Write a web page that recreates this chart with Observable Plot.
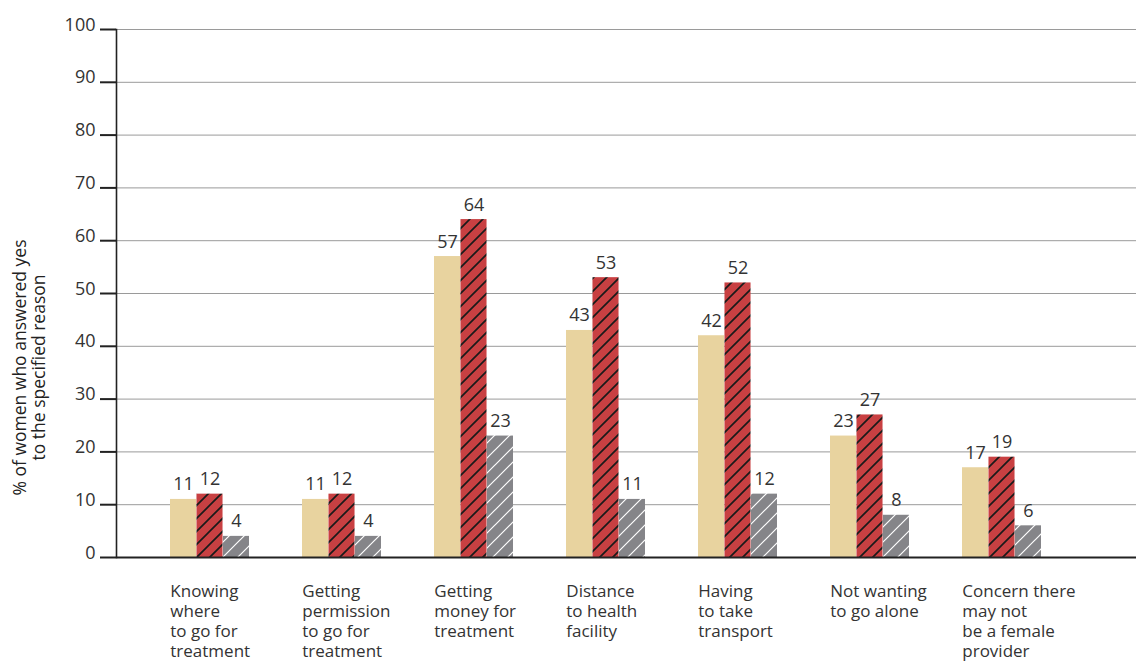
<!DOCTYPE html>
<html><head><meta charset="utf-8">
<script src="https://cdn.jsdelivr.net/npm/d3@7"></script>
<script src="https://cdn.jsdelivr.net/npm/@observablehq/plot@0.6"></script>
<style>body{margin:0;background:#fff;} svg{display:block;}</style>
</head><body><div id="chart"></div>
<script>
const categories = [
  "Knowing\nwhere\nto go for\ntreatment",
  "Getting\npermission\nto go for\ntreatment",
  "Getting\nmoney for\ntreatment",
  "Distance\nto health\nfacility",
  "Having\nto take\ntransport",
  "Not wanting\nto go alone",
  "Concern there\nmay not\nbe a female\nprovider"
];
const seriesNames = ["Series 1", "Series 2", "Series 3"];
const series1 = [11, 11, 57, 43, 42, 23, 17];
const series2 = [12, 12, 64, 53, 52, 27, 19];
const series3 = [4, 4, 23, 11, 12, 8, 6];
const yTicks = [0, 10, 20, 30, 40, 50, 60, 70, 80, 90, 100];
const yLabel = "% of women who answered yes\nto the specified reason";
const fills = ["#E8D39F", "url(#hatch-red)", "url(#hatch-gray)"];

const seriesValues = [series1, series2, series3];
const rows = categories.flatMap((c, i) =>
  seriesValues.map((s, j) => ({category: c, series: seriesNames[j], k: j, value: s[i]})));

const W = 1136, ML = 116;
const xRange = [ML, 1095.3], pad = 0.4;
const step = (xRange[1] - xRange[0]) / (categories.length - pad + 2 * pad);
const bw = step * (1 - pad);
const sub = bw / seriesNames.length;

const barMarks = seriesNames.flatMap((name, j) => [
  Plot.barY(rows.filter(r => r.k === j), {x: "category", y: "value", fill: "series",
    insetLeft: j * sub, insetRight: (seriesNames.length - 1 - j) * sub}),
  Plot.text(rows.filter(r => r.k === j), {x: "category", y: "value", text: "value",
    dx: (j - (seriesNames.length - 1) / 2) * sub,
    lineAnchor: "bottom", dy: -9, fontSize: 18, fill: "#333"})
]);

const chart = Plot.plot({
  width: W, height: 661,
  marginTop: 29, marginBottom: 104, marginLeft: ML, marginRight: 0,
  style: {fontFamily: "'Open Sans', sans-serif", background: "#fff", overflow: "visible"},
  x: {domain: categories, range: xRange, paddingInner: pad, paddingOuter: pad, axis: null},
  y: {domain: [0, 100], axis: null},
  color: {type: "ordinal", domain: seriesNames, range: fills},
  marks: [
    Plot.ruleY(yTicks.filter(d => d > 0), {stroke: "#9a9a9a", strokeWidth: 1}),
    ...barMarks,
    Plot.text(categories, {x: d => d, text: d => d, frameAnchor: "bottom", dx: -bw / 2,
      textAnchor: "start", lineAnchor: "top", dy: 25, fontSize: 17, lineHeight: 20 / 17, fill: "#333"}),
    Plot.ruleY([0], {stroke: "#222", strokeWidth: 2}),
    Plot.ruleY(yTicks, {stroke: "#222", strokeWidth: 2, dx: -16, insetRight: (W - ML) - 16}),
    Plot.frame({anchor: "left", stroke: "#222", strokeWidth: 1.6}),
    Plot.text(yTicks, {y: d => d, text: d => String(d), frameAnchor: "left",
      textAnchor: "end", lineAnchor: "bottom", dx: -21, dy: 1, fontSize: 18, fill: "#333"}),
    Plot.text([yLabel], {text: d => d, frameAnchor: "left", rotate: -90,
      dx: -87, dy: 74, textAnchor: "middle", lineAnchor: "middle", fontSize: 17.5, fontWeight: 500,
      lineHeight: 1.05, fill: "#222"})
  ]
});

const svg = d3.select(chart.tagName.toLowerCase() === "svg" ? chart : chart.querySelector("svg"));
const defs = svg.insert("defs", ":first-child");
const pr = defs.append("pattern").attr("id", "hatch-red").attr("patternUnits", "userSpaceOnUse")
  .attr("width", 13).attr("height", 13);
pr.append("rect").attr("width", 13).attr("height", 13).attr("fill", "#C84042");
pr.append("path").attr("d", "M-2,2 l4,-4 M0,13 l13,-13 M11,15 l4,-4")
  .attr("stroke", "#1a1a1a").attr("stroke-width", 1.7);
const pg = defs.append("pattern").attr("id", "hatch-gray").attr("patternUnits", "userSpaceOnUse")
  .attr("width", 15).attr("height", 15);
pg.append("rect").attr("width", 15).attr("height", 15).attr("fill", "#858589");
pg.append("path").attr("d", "M-2,2 l4,-4 M0,15 l15,-15 M13,17 l4,-4")
  .attr("stroke", "#ffffff").attr("stroke-width", 1.2);

document.getElementById("chart").appendChild(chart);
</script>
</body></html>
